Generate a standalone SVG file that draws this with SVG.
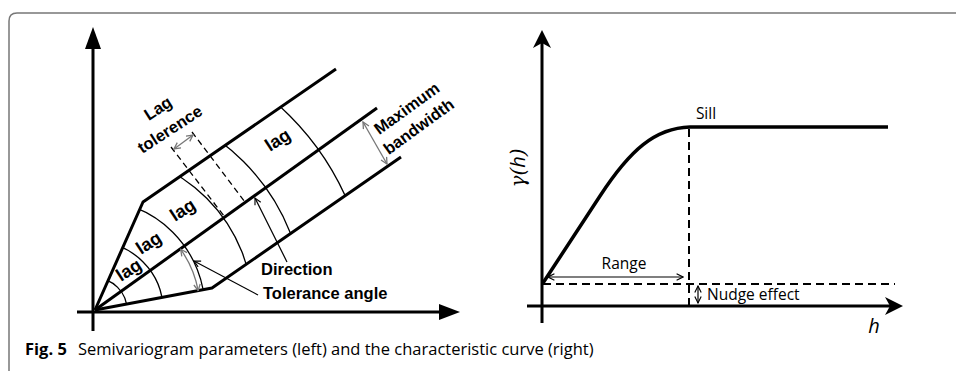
<svg xmlns="http://www.w3.org/2000/svg" width="956" height="371" viewBox="0 0 956 371">
<style>
.ax{stroke:#000;stroke-width:3;fill:none}
.thick{stroke:#000;stroke-width:3;fill:none;stroke-linejoin:round}
.arc{stroke:#000;stroke-width:1.3;fill:none}
.dash{stroke:#000;stroke-width:1.3;fill:none;stroke-dasharray:6,4}
.gray{stroke:#777;stroke-width:1.3;fill:none}
.ptr{stroke:#000;stroke-width:1.2;fill:none}
.lb{font-family:"Liberation Sans",Arial,sans-serif;font-weight:bold;font-size:16.5px;fill:#000}
.lg{font-family:"Liberation Sans",Arial,sans-serif;font-weight:bold;font-size:18px;fill:#000}
.rt{font-family:"Open Sans","Noto Sans",sans-serif;font-size:15.5px;fill:#000}
.rdash{stroke:#000;stroke-width:2;fill:none;stroke-dasharray:8,5}
.thin{stroke:#000;stroke-width:1.2;fill:none}
</style>
<defs>
<marker id="ga" viewBox="0 0 10 10" refX="9" refY="5" markerWidth="8" markerHeight="8" markerUnits="userSpaceOnUse" orient="auto-start-reverse"><path d="M1,1 L9,5 L1,9" fill="none" stroke="#777" stroke-width="1.6"/></marker>
<marker id="ba" viewBox="0 0 10 10" refX="9" refY="5" markerWidth="8" markerHeight="8" markerUnits="userSpaceOnUse" orient="auto-start-reverse"><path d="M1,1 L9,5 L1,9" fill="none" stroke="#000" stroke-width="1.4"/></marker>
<clipPath id="cone"><polygon points="95,310 143,202 420,11 480,102 212,288"/></clipPath>
</defs>
<path d="M9,371 L9,21 Q9,13 17,13 L956,13" fill="none" stroke="#777" stroke-width="1.5"/>
<g id="left-axes">
<line class="ax" x1="93" y1="46" x2="93" y2="331"/>
<polygon points="93,27 85,49 101,49" fill="#000"/>
<line class="ax" x1="77" y1="312" x2="442" y2="312"/>
<polygon points="460,312 439,304 439,320" fill="#000"/>
</g>
<g id="cone-lines">
<polyline class="thick" points="95,310 143,202 336,69"/>
<polyline class="thick" points="95,310 212,288 401,157"/>
<line class="thick" x1="95" y1="310" x2="377" y2="108"/>
</g>
<g id="lag-arcs" clip-path="url(#cone)">
<circle class="arc" cx="95" cy="310" r="32"/>
<circle class="arc" cx="95" cy="310" r="68"/>
<circle class="arc" cx="95" cy="310" r="110"/>
<circle class="arc" cx="95" cy="310" r="158"/>
<circle class="arc" cx="95" cy="310" r="210"/>
<circle class="arc" cx="95" cy="310" r="275"/>
</g>
<g id="lag-tolerance">
<line class="dash" x1="171" y1="147" x2="224" y2="216"/>
<line class="dash" x1="192" y1="132" x2="245" y2="202"/>
<line class="gray" x1="174" y1="149" x2="193" y2="135" marker-start="url(#ga)" marker-end="url(#ga)"/>
<text class="lb" transform="translate(161,113) rotate(-33)" text-anchor="middle">Lag</text>
<text class="lb" transform="translate(173,134) rotate(-33)" text-anchor="middle">tolerence</text>
</g>
<g id="bandwidth">
<line class="gray" x1="363" y1="122" x2="387" y2="164" marker-start="url(#ga)" marker-end="url(#ga)"/>
<text class="lb" transform="translate(410,113) rotate(-36)" text-anchor="middle">Maximum</text>
<text class="lb" transform="translate(422,131) rotate(-36)" text-anchor="middle">bandwidth</text>
</g>
<g id="lag-labels">
<text class="lg" transform="translate(132,275) rotate(-33)" text-anchor="middle">lag</text>
<text class="lg" transform="translate(152,248) rotate(-33)" text-anchor="middle">lag</text>
<text class="lg" transform="translate(186,215) rotate(-33)" text-anchor="middle">lag</text>
<text class="lg" transform="translate(281,145) rotate(-33)" text-anchor="middle">lag</text>
</g>
<g id="angle">
<path class="gray" d="M180.7,249.3 A105,105 0 0 1 198.2,290.7" marker-start="url(#ga)" marker-end="url(#ga)"/>
</g>
<g id="pointers">
<line class="ptr" x1="287" y1="262" x2="255" y2="198" marker-end="url(#ba)"/>
<line class="ptr" x1="258" y1="295" x2="194" y2="261" marker-end="url(#ba)"/>
<text class="lb" x="261" y="275">Direction</text>
<text class="lb" x="263" y="299">Tolerance angle</text>
</g>
<g id="right-axes">
<line class="ax" x1="542" y1="40" x2="542" y2="323"/>
<path d="M542,30 L551,48 L542,43 L533,48 Z" fill="#000"/>
<line class="ax" x1="527" y1="306" x2="894" y2="306"/>
<path d="M903,306 L885,297 L890,306 L885,315 Z" fill="#000"/>
</g>
<g id="curve">
<path d="M543,283 L600,196 C630,150 655,128 690,127 L888,127" fill="none" stroke="#000" stroke-width="3.5" stroke-linejoin="round"/>
</g>
<g id="guides">
<line class="rdash" x1="689" y1="129" x2="689" y2="306"/>
<line class="rdash" x1="543" y1="284" x2="895" y2="284"/>
<line class="thin" x1="548" y1="277" x2="683" y2="277" marker-start="url(#ba)" marker-end="url(#ba)"/>
<line class="thin" x1="698" y1="286" x2="698" y2="303" marker-start="url(#ba)" marker-end="url(#ba)"/>
</g>
<g id="right-labels">
<text class="rt" x="706" y="119" text-anchor="middle">Sill</text>
<text class="rt" x="624" y="269" text-anchor="middle">Range</text>
<text class="rt" x="707" y="300">Nudge effect</text>
<text transform="translate(525,168) rotate(-90)" text-anchor="middle" font-family="'DejaVu Serif','Liberation Serif',serif" font-style="italic" font-size="20">γ(<tspan font-family="'Open Sans',sans-serif">h</tspan>)</text>
<text x="874" y="333" text-anchor="middle" font-family="'Open Sans',sans-serif" font-style="italic" font-size="20">h</text>
</g>
<g id="caption">
<text x="25" y="355" font-family="'Open Sans','Noto Sans',sans-serif" font-size="16.5" fill="#000"><tspan font-weight="bold">Fig. 5</tspan><tspan x="78">Semivariogram parameters (left) and the characteristic curve (right)</tspan></text>
</g>
</svg>
